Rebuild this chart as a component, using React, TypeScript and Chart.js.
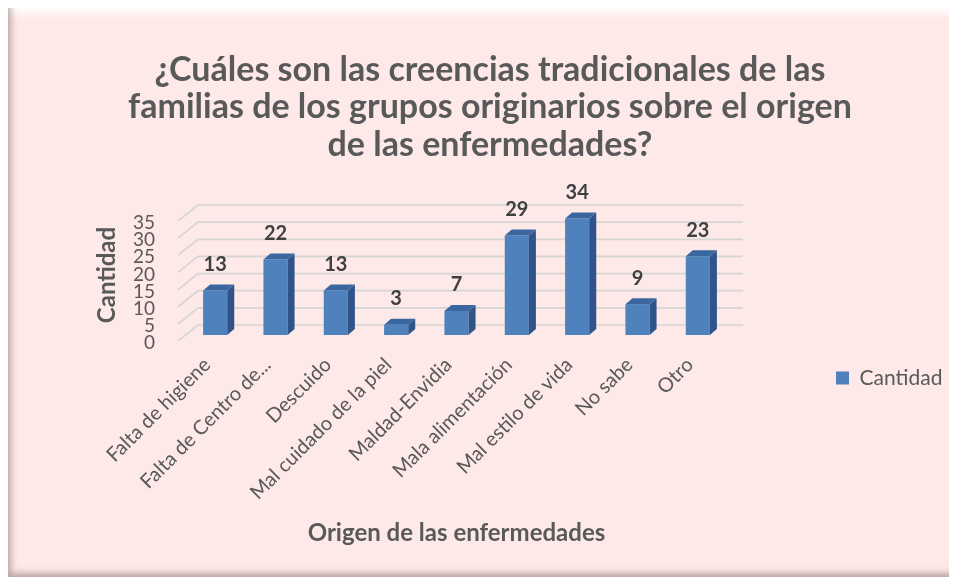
import React, { useEffect, useRef } from "react";
import { Chart, registerables } from "chart.js";
Chart.register(...registerables);

const categories = [
  "Falta de higiene",
  "Falta de Centro de...",
  "Descuido",
  "Mal cuidado de la piel",
  "Maldad-Envidia",
  "Mala alimentación",
  "Mal estilo de vida",
  "No sabe",
  "Otro",
];
const cantidad = [13, 22, 13, 3, 7, 29, 34, 9, 23];
const seriesLabel = "Cantidad";
const titleLines = [
  "¿Cuáles son las creencias tradicionales de las",
  "familias de los grupos originarios sobre el origen",
  "de las enfermedades?",
];
const xTitle = "Origen de las enfermedades";
const yTitle = "Cantidad";
const yMin = 0;
const yMax = 35;
const yStep = 5;

const W = 947;
const H = 569;
const AREA = { left: 177, right: 720, top: 207, bottom: 327 };
const FONT = "Lato";
const LEG_SIZE = 21;
const LEG_BOX = 13;
const LEG_PAD = 108;
const TITLE_SIZE = 34;
const TITLE_LH = 37.5;

function measure(text: string, font: string) {
  const c = document.createElement("canvas").getContext("2d")!;
  c.font = font;
  return c.measureText(text).width;
}

const DX = 7;
const DY = -6;

const threeD = {
  id: "threeD",
  beforeDatasetsDraw(chart: any) {
    const { ctx, chartArea, scales } = chart;
    const y = scales.y;
    ctx.save();
    ctx.strokeStyle = "#D5D5D5";
    ctx.lineWidth = 1.7;
    for (let v = yMin; v <= yMax; v += yStep) {
      const py = y.getPixelForValue(v);
      ctx.beginPath();
      ctx.moveTo(chartArea.left - 7, py + 6);
      ctx.lineTo(chartArea.left + 13, py - 10);
      ctx.lineTo(chartArea.right + 15, py - 10);
      ctx.stroke();
    }
    ctx.restore();
  },
  afterDatasetsDraw(chart: any) {
    const { ctx } = chart;
    const meta = chart.getDatasetMeta(0);
    ctx.save();
    meta.data.forEach((bar: any, i: number) => {
      const { x, y, base, width } = bar.getProps(["x", "y", "base", "width"], true);
      const l = x - width / 2;
      const r = x + width / 2;
      ctx.fillStyle = "#30538A";
      ctx.beginPath();
      ctx.moveTo(r, y);
      ctx.lineTo(r + DX, y + DY);
      ctx.lineTo(r + DX, base + DY);
      ctx.lineTo(r, base);
      ctx.closePath();
      ctx.fill();
      ctx.fillStyle = "#3B67A1";
      ctx.beginPath();
      ctx.moveTo(l, y);
      ctx.lineTo(l + DX, y + DY);
      ctx.lineTo(r + DX, y + DY);
      ctx.lineTo(r, y);
      ctx.closePath();
      ctx.fill();
      ctx.fillStyle = "#404040";
      ctx.font = `bold 20px ${FONT}`;
      ctx.textAlign = "center";
      ctx.textBaseline = "middle";
      ctx.fillText(String(cantidad[i]), x, y - 26);
    });
    ctx.restore();
  },
};

export default function App() {
  const ref = useRef<HTMLCanvasElement>(null);
  useEffect(() => {
    const textW = measure(seriesLabel, `${LEG_SIZE}px ${FONT}`);
    const colW = LEG_BOX + LEG_SIZE / 2 + textW;
    const legendWidth = LEG_PAD + colW + 10;
    const pr = W - AREA.right - legendWidth;
    const pl = 17 + pr;
    const yWidth = AREA.left - pl;
    const xHeight = H - AREA.bottom;
    const titleTop = 62 - TITLE_LH / 2;
    const titleBottom = AREA.top - titleTop - 3 * TITLE_LH;
    const chart = new Chart(ref.current!, {
      type: "bar",
      data: {
        labels: categories,
        datasets: [
          {
            label: seriesLabel,
            data: cantidad,
            backgroundColor: "#4F81BD",
            borderWidth: 0,
            barPercentage: 0.4,
            categoryPercentage: 1,
          },
        ],
      },
      options: {
        responsive: false,
        animation: false,
        devicePixelRatio: 1,
        layout: { padding: { left: pl, right: pr, top: 0, bottom: 0 } },
        plugins: {
          title: {
            display: true,
            text: titleLines,
            color: "#595959",
            font: { family: FONT, size: TITLE_SIZE, weight: "bold", lineHeight: TITLE_LH / TITLE_SIZE },
            padding: { top: titleTop, bottom: titleBottom },
          },
          legend: {
            position: "right",
            align: "center",
            title: { display: true, text: "", font: { size: 10, lineHeight: 1.2 }, padding: { top: 159, bottom: 0 } },
            labels: {
              boxWidth: LEG_BOX,
              boxHeight: LEG_BOX,
              padding: LEG_PAD,
              color: "#595959",
              font: { family: FONT, size: LEG_SIZE },
            },
          },
          tooltip: { enabled: false },
        },
        scales: {
          x: {
            grid: { display: false, drawTicks: false },
            border: { display: false },
            ticks: {
              autoSkip: false,
              minRotation: 45,
              maxRotation: 45,
              color: "#595959",
              font: { family: FONT, size: 20 },
              padding: 18,
              labelOffset: -8,
            },
            title: {
              display: true,
              text: xTitle,
              color: "#595959",
              font: { family: FONT, size: 24, weight: "bold", lineHeight: 1.2 },
              padding: { top: 0, bottom: 29.6 },
            },
            afterFit: (s: any) => {
              s.height = xHeight;
            },
          },
          y: {
            min: yMin,
            max: yMax,
            grid: { display: false, drawTicks: false },
            border: { display: false },
            ticks: {
              autoSkip: false,
              stepSize: yStep,
              color: "#595959",
              font: { family: FONT, size: 19 },
              padding: 30,
              labelOffset: 8,
            },
            title: {
              display: true,
              text: yTitle,
              color: "#595959",
              font: { family: FONT, size: 24, weight: "bold", lineHeight: 1.2 },
              padding: { top: 99 - pl - 14.4, bottom: 0 },
            },
            afterFit: (s: any) => {
              s.width = yWidth;
            },
          },
        },
      },
      plugins: [threeD],
    });
    return () => chart.destroy();
  }, []);
  return (
    <div
      style={{
        position: "relative",
        width: W,
        height: H,
        background: "#FDE9E8",
        boxShadow:
          "0 -1px 0 0 #d4d4d4, -1px 0 0 0 #d4d4d4, inset 5px -6px 6px -2px rgba(110,80,80,0.45), inset 0 10px 6px -4px rgba(255,255,255,0.9)",
      }}
    >
      <canvas ref={ref} width={W} height={H} style={{ position: "absolute", left: 0, top: 0 }} />
    </div>
  );
}
